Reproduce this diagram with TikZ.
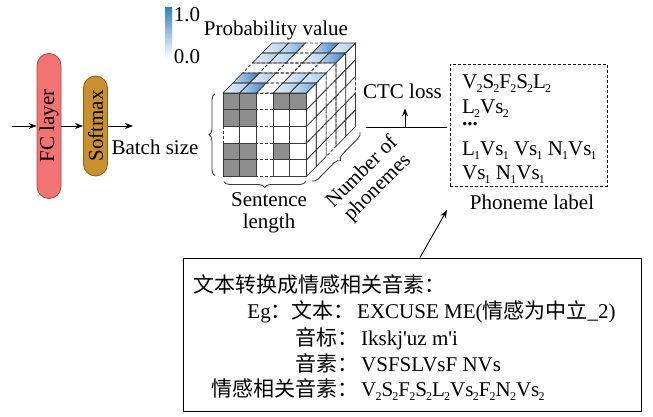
\documentclass[tikz,border=0pt]{standalone}
\usepackage{fontspec}
\setmainfont{Liberation Serif}
\newfontfamily\cjk{Noto Sans CJK SC}
\usepackage{tikz}
\usetikzlibrary{arrows.meta,positioning,decorations.pathreplacing}

\definecolor{fcred}{HTML}{F27373}
\definecolor{fcedge}{HTML}{A84646}
\definecolor{smgold}{HTML}{C8902E}
\definecolor{smedge}{HTML}{86601E}
\definecolor{blo}{HTML}{A9CBEB}
\definecolor{bmid}{HTML}{6FA7DC}
\definecolor{bhi}{HTML}{3A80C6}
\definecolor{cellgray}{HTML}{8E8E8E}
\definecolor{edge}{HTML}{3A3A3A}

\newcommand{\phsub}[1]{\kern-0.8pt\raisebox{-4pt}{\fontsize{12}{12}\selectfont #1}}

\begin{document}
\begin{tikzpicture}[
    x=1pt, y=-1pt,
    every node/.style={font=\fontsize{21}{22}\selectfont, inner sep=1pt},
    layer/.style={rectangle, rounded corners=12pt, draw, line width=0.8pt, minimum width=24pt, text centered},
    cell/.style={draw=edge, line width=0.7pt},
    gapcell/.style={draw=edge, line width=0.7pt, dash pattern=on 3pt off 2pt},
    cbrace/.style={decorate, decoration={brace, amplitude=6pt}, line width=0.9pt, draw=edge},
    cbar/.style={rectangle, minimum width=7pt, minimum height=50pt, inner sep=0pt, top color=bhi, bottom color=white},
    phbox/.style={rectangle, draw, line width=0.8pt, dash pattern=on 3pt off 2pt, minimum width=157pt, minimum height=122pt},
    arrow/.style={line width=0.9pt,->,>={Stealth[length=8pt,width=6pt]}}
]
\useasboundingbox (0,0) rectangle (653,417);

% FC layer and softmax
\node[layer, fill=fcred, draw=fcedge, minimum height=145pt] (fc) at (49,126) {\rotatebox{90}{FC layer}};
\node[layer, fill=smgold, draw=smedge, minimum height=100pt] (smax) at (95.5,126) {\rotatebox{90}{Softmax}};
\coordinate (in) at (12,126);
\coordinate (out) at (133,126);
\node (batch) at (155,147) {Batch size};

% Arrows
\draw[arrow] (in) -- (fc);
\draw[arrow] (fc) -- (smax);
\draw[arrow] (smax) -- (out);

% Colour bar
\node[cbar] (cbar) at (168.5,33) {};
\node (cbhi) at (187,15) {1.0};
\node (cblo) at (187,57) {0.0};
\node[anchor=base] (prob) at (276,36) {Probability value};

% Output cube
\begin{scope}[shift={(223,93)}, x={(16.7pt,0pt)}, y={(0pt,-16.7pt)}, z={(9.8pt,10pt)}]
  % cell fills
  \foreach \i/\j in {0/0,1/0,3/0,4/0,0/1,1/1,0/3,1/3,3/3,0/4,1/4}
    \fill[cellgray] (\i,\j,0) rectangle ++(1,1,0);
  \foreach \i/\k/\c in {0/0/blo,1/0/bhi,3/0/blo,4/0/bmid,
                        0/1/bhi,1/1/blo,3/1/blo,4/1/blo,
                        0/3/blo,1/3/blo,3/3/blo,4/3/bhi,
                        0/4/blo,1/4/bmid,3/4/bhi,4/4/blo}
    \shade[left color=\c!30, right color=\c] (\i,0,\k) -- ++(1,0,0) -- ++(0,0,1) -- ++(-1,0,0) -- cycle;
  % gap cells
  \foreach \b in {0,...,4} {
    \draw[gapcell] (2,\b,0) rectangle ++(1,1,0);
    \draw[gapcell] (\b,2,0) rectangle ++(1,1,0);
    \draw[gapcell] (2,0,\b) -- ++(1,0,0) -- ++(0,0,1) -- ++(-1,0,0) -- cycle;
    \draw[gapcell] (\b,0,2) -- ++(1,0,0) -- ++(0,0,1) -- ++(-1,0,0) -- cycle;
    \draw[gapcell] (5,2,\b) -- ++(0,0,1) -- ++(0,1,0) -- ++(0,0,-1) -- cycle;
    \draw[gapcell] (5,\b,2) -- ++(0,0,1) -- ++(0,1,0) -- ++(0,0,-1) -- cycle;
  }
  % solid cells
  \foreach \i in {0,1,3,4} \foreach \j in {0,1,3,4} {
    \draw[cell] (\i,\j,0) rectangle ++(1,1,0);
    \draw[cell] (\i,0,\j) -- ++(1,0,0) -- ++(0,0,1) -- ++(-1,0,0) -- cycle;
    \draw[cell] (5,\i,\j) -- ++(0,0,1) -- ++(0,1,0) -- ++(0,0,-1) -- cycle;
  }
  % braces
  \draw[cbrace] (-0.48,4.95,0) -- (-0.48,0.05,0);
  \draw[cbrace] (4.95,5.3,0) -- (0.05,5.3,0);
  \draw[cbrace] (5.3,5.3,4.95) -- (5.3,5.3,0.05);
\end{scope}
\node[align=center] (sent) at (269,213) {Sentence\\length};
\node[align=center, rotate=45] (nphon) at (370,180) {Number of\\phonemes};

% CTC loss
\node[anchor=base] (ctc) at (402.5,99) {CTC loss};
\coordinate (ctcl) at (366,127);
\coordinate (ctcm) at (405,127);

% Phoneme label
\node[phbox] (phon) at (528.5,125) {};
\node[anchor=base west] (ph1) at (461,89) {V\phsub{2}S\phsub{2}F\phsub{2}S\phsub{2}L\phsub{2}};
\node[anchor=base west] (ph2) at (461,114) {L\phsub{2}Vs\phsub{2}};
\node[anchor=base west, inner sep=0pt] (ph3) at (462,126) {\textbf{...}};
\node[anchor=base west] (ph4) at (461,155) {L\phsub{1}Vs\phsub{1} Vs\phsub{1} N\phsub{1}Vs\phsub{1}};
\node[anchor=base west] (ph5) at (461,179) {Vs\phsub{1} N\phsub{1}Vs\phsub{1}};
\node (plabel) at (532,202) {Phoneme label};

\draw[line width=0.9pt] (ctcl) -- ([xshift=-3pt]ctcl -| phon.west);
\draw[arrow] (ctcm) -- ([yshift=-8pt]ctcm |- ctc.south);

% Text to emotion phonemes
\node[rectangle, draw, line width=0.9pt, minimum width=458pt, minimum height=153pt] (tts) at (412,334.5) {};
\node[anchor=base west] (t1) at (192,292) {\cjk 文本转换成情感相关音素：};
\node[anchor=base east] (t2) at (356,318) {Eg{\cjk ：文本：}};
\node[anchor=base west] (v2) at (356,318) {EXCUSE ME({\cjk 情感为中立}\_2)};
\node[anchor=base east] (t3) at (360,345) {\cjk 音标：};
\node[anchor=base west] (v3) at (360,345) {Ikskj\textquotesingle uz m\textquotesingle i};
\node[anchor=base east] (t4) at (360,371) {\cjk 音素：};
\node[anchor=base west] (v4) at (360,371) {VSFSLVsF NVs};
\node[anchor=base east] (t5) at (360,396) {\cjk 情感相关音素：};
\node[anchor=base west] (v5) at (360,396) {V\phsub{2}S\phsub{2}F\phsub{2}S\phsub{2}L\phsub{2}Vs\phsub{2}F\phsub{2}N\phsub{2}Vs\phsub{2}};

\coordinate (phtip) at (447,210);
\draw[arrow] ([xshift=8pt]tts.north) -- (phtip);

\end{tikzpicture}
\end{document}
